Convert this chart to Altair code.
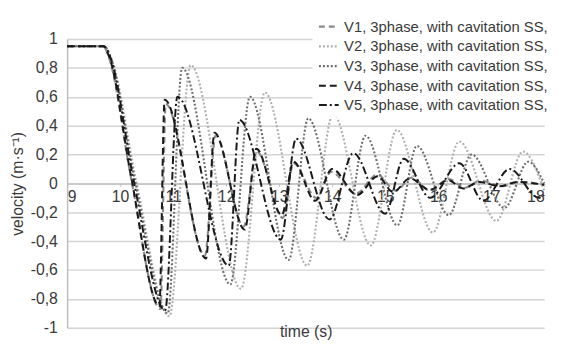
import altair as alt
import pandas as pd

# ---- data ----
series_names = [
    "V1, 3phase, with cavitation SS,",
    "V2, 3phase, with cavitation SS,",
    "V3, 3phase, with cavitation SS,",
    "V4, 3phase, with cavitation SS,",
    "V5, 3phase, with cavitation SS,",
]

t_v1 = [9.0, 9.68, 9.8, 10.2, 10.76, 10.86, 11.6, 11.8, 12.33, 12.58, 13.07, 13.27, 13.7, 13.98, 14.45, 14.85, 15.2, 15.5, 15.85, 16.2, 16.5, 16.8, 17.2, 17.55, 18.0]
v_v1 = [0.95, 0.95, 0.86, 0.05, -0.87, 0.55, -0.50, 0.33, -0.30, 0.22, -0.24, 0.14, -0.10, 0.08, -0.07, 0.06, -0.05, 0.04, -0.05, 0.03, -0.03, 0.02, -0.02, 0.01, -0.01]

t_v2 = [9.0, 9.7, 9.84, 10.3, 10.93, 11.33, 12.28, 12.73, 13.53, 14.02, 14.73, 15.22, 15.9, 16.4, 17.1, 17.6, 18.0]
v_v2 = [0.95, 0.95, 0.86, 0.02, -0.92, 0.82, -0.73, 0.63, -0.57, 0.48, -0.43, 0.37, -0.34, 0.29, -0.26, 0.22, -0.05]

t_v3 = [9.0, 9.7, 9.83, 10.28, 10.9, 11.17, 12.08, 12.45, 13.18, 13.55, 14.22, 14.63, 15.23, 15.6, 16.2, 16.63, 17.25, 17.7, 18.0]
v_v3 = [0.95, 0.95, 0.86, 0.02, -0.90, 0.80, -0.70, 0.60, -0.53, 0.45, -0.39, 0.33, -0.29, 0.26, -0.22, 0.20, -0.17, 0.15, 0.0]

t_v4 = [9.0, 9.68, 9.8, 10.2, 10.74, 10.84, 11.62, 11.78, 12.35, 12.57, 13.05, 13.27, 13.68, 14.0, 14.47, 14.86, 15.15, 15.47, 15.84, 16.19, 16.47, 16.78, 17.16, 17.5, 18.0]
v_v4 = [0.95, 0.95, 0.87, 0.06, -0.85, 0.58, -0.52, 0.35, -0.32, 0.24, -0.22, 0.15, -0.12, 0.10, -0.08, 0.05, -0.06, 0.035, -0.045, 0.023, -0.035, 0.01, -0.02, 0.01, -0.01]

t_v5 = [9.0, 9.7, 9.82, 10.25, 10.85, 11.08, 12.05, 12.25, 13.03, 13.32, 13.95, 14.4, 15.0, 15.35, 15.85, 16.4, 16.85, 17.35, 17.9, 18.0]
v_v5 = [0.95, 0.95, 0.87, 0.03, -0.88, 0.60, -0.57, 0.44, -0.39, 0.31, -0.25, 0.21, -0.21, 0.17, -0.10, 0.14, -0.12, 0.10, -0.10, -0.08]

x_ticks = [9, 10, 11, 12, 13, 14, 15, 16, 17, 18]
y_ticks = [-1, -0.8, -0.6, -0.4, -0.2, 0, 0.2, 0.4, 0.6, 0.8, 1]

# ---- styles ----
colors = ["#8a8a8a", "#b0b0b0", "#6e6e6e", "#1a1a1a", "#1a1a1a"]
dashes = [[6, 4], [2, 2], [2, 2], [7, 4], [8, 3, 2, 3]]
widths = [2.2, 2.0, 2.0, 2.8, 2.4]

rows = []
for name, ts, vs in zip(series_names, [t_v1, t_v2, t_v3, t_v4, t_v5], [v_v1, v_v2, v_v3, v_v4, v_v5]):
    for i, (t, v) in enumerate(zip(ts, vs)):
        rows.append({"series": name, "t": t, "v": v, "order": i})
df = pd.DataFrame(rows)

W, H = 484, 293
font = "Liberation Sans"
txt = "#3a3a3a"

chart = alt.Chart(df).mark_line(interpolate="monotone").encode(
    x=alt.X("t:Q",
            scale=alt.Scale(domain=[9, 18], nice=False, zero=False),
            axis=alt.Axis(values=x_ticks, format="d", title="time (s)",
                          offset=-H / 2, grid=False,
                          domainColor="#bdbdbd", domainWidth=1.5,
                          tickColor="#bdbdbd", tickSize=3, labelPadding=2,
                          labelFontSize=16, labelColor=txt, labelFont=font,
                          titleFontSize=16, titleFont=font, titleColor=txt,
                          titleFontWeight="normal",
                          titleX=W / 2, titleY=155, titleBaseline="alphabetic",
                          titleAlign="center")),
    y=alt.Y("v:Q",
            scale=alt.Scale(domain=[-1, 1], nice=False),
            axis=alt.Axis(values=y_ticks, title="velocity (m·s⁻¹)",
                          labelExpr="(datum.value < 0 ? '-' : '') + replace(format(abs(datum.value), '~g'), '.', ',')",
                          grid=True, gridColor="#d4d4d4", gridWidth=1.5,
                          domainColor="#bdbdbd", domainWidth=1.5,
                          ticks=False, labelPadding=10,
                          labelFontSize=16, labelColor=txt, labelFont=font,
                          titleFontSize=16, titleFont=font, titleColor=txt,
                          titleFontWeight="normal",
                          titleX=-50, titleY=H / 2, titleAngle=270,
                          titleBaseline="middle", titleAlign="center")),
    color=alt.Color("series:N",
                    scale=alt.Scale(domain=series_names, range=colors),
                    legend=alt.Legend(title=None, orient="none",
                                      legendX=249, legendY=-29,
                                      symbolType="stroke", symbolSize=400,
                                      symbolStrokeWidth=2,
                                      labelFontSize=15, labelFont=font,
                                      labelColor=txt, labelLimit=400,
                                      labelOffset=4, rowPadding=0,
                                      padding=5, fillColor="white")),
    strokeDash=alt.StrokeDash("series:N",
                              scale=alt.Scale(domain=series_names, range=dashes),
                              legend=None),
    strokeWidth=alt.StrokeWidth("series:N",
                                scale=alt.Scale(domain=series_names, range=widths),
                                legend=None),
    order="order:Q",
).properties(
    width=W, height=H,
    autosize=alt.AutoSizeParams(type="none"),
    padding={"left": 60, "top": 29, "right": 11, "bottom": 14},
).configure_view(stroke=None)

chart.save("out.html", embed_options={"renderer": "svg", "actions": False})
